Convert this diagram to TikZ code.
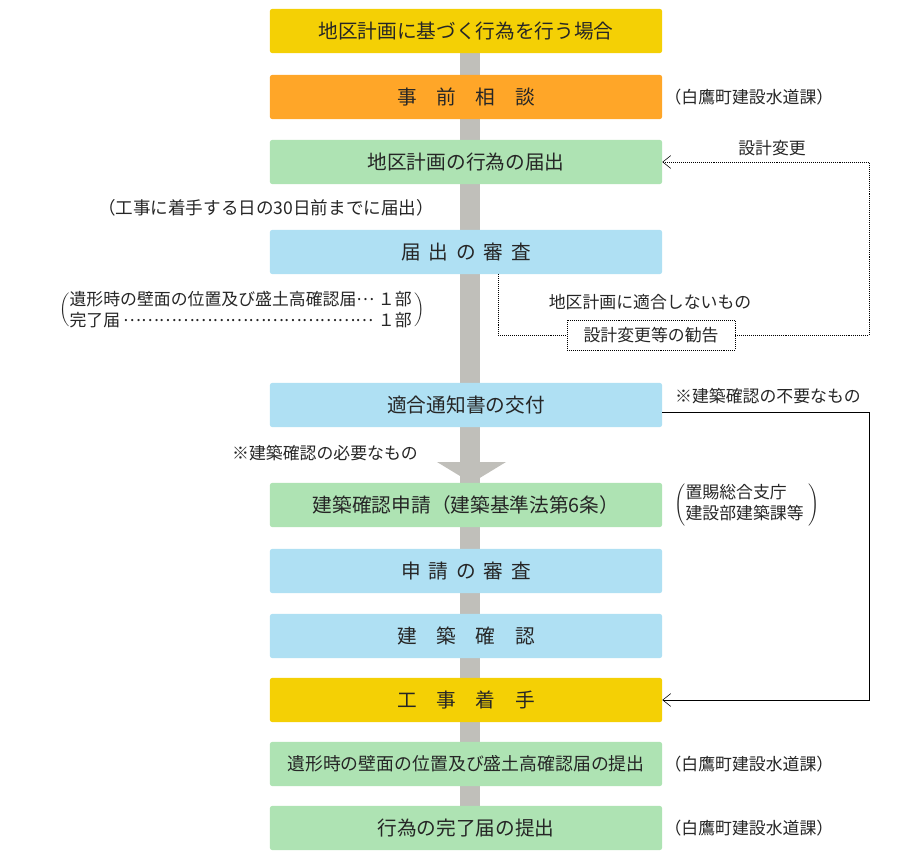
\documentclass[tikz,border=0pt]{standalone}
\usepackage{fontspec}
\setmainfont{Noto Sans CJK JP}
\usetikzlibrary{arrows.meta}
\definecolor{yel}{HTML}{F4D005}
\definecolor{ora}{HTML}{FFA628}
\definecolor{grn}{HTML}{AEE3B3}
\definecolor{sky}{HTML}{AFE0F3}
\definecolor{bar}{HTML}{C0BFBA}
\definecolor{ink}{HTML}{262626}
\newcommand\kgap{\hspace{.4em}}
\newcommand\middots{\raisebox{.3em}{…}}

\begin{document}
\begin{tikzpicture}[x=0.025cm,y=-0.025cm,>={Straight Barb[length=2mm,width=3.2mm]},
  stepbox/.style={rounded corners=1.5pt,minimum width=9.8cm,minimum height=1.1cm,inner sep=0pt,
    text=ink,font=\fontsize{14}{17}\selectfont},
  note/.style={text=ink,inner sep=0pt,font=\fontsize{12}{15}\selectfont},
  dotline/.style={densely dotted,thin}]
  \useasboundingbox (0,0) rectangle (920,865);
  % the grey spine and its arrowhead
  \fill[bar] (460,53) rectangle (480,806);
  \fill[bar] (437,462) -- (506,462) -- (471.5,483) -- cycle;
  \foreach \y/\n/\c/\t in {31/start/yel/{地区計画に基づく行為を行う場合},
      97/consult/ora/{事　前　相　談},
      162/notify/grn/{地区計画の行為の届出},
      252/review/sky/{届\kgap 出\kgap の\kgap 審\kgap 査},
      405/conform/sky/{適合通知書の交付},
      505/apply/grn/{建築確認申請（建築基準法第6条）},
      571/check/sky/{申\kgap 請\kgap の\kgap 審\kgap 査},
      636/confirm/sky/{建　築　確　認},
      700/begin/yel/{工　事　着　手},
      764/height/grn/{\fontsize{12.7}{15}\selectfont 遺形時の壁面の位置及び盛土高確認届の提出},
      828/finish/grn/{行為の完了届の提出}} {
    \node[stepbox,fill=\c] (\n) at (466,\y) {\t};
  }
  \foreach \n in {consult,height,finish} {
    \node[note,anchor=west] at ([xshift=0.05cm]\n.east) {（白鷹町建設水道課）};
  }
  \node[note,font=\fontsize{12.5}{15}\selectfont] (deadline) at (266,208) {（工事に着手する日の30日前までに届出）};
  \node[note] (copies) at (242,310) {$\left(\vcenter{\hbox{\parbox{8.55cm}{遺形時の壁面の位置及び盛土高確認届\middots\hfill １部\\
    完了届\leaders\hbox{\middots}\hfill １部}}}\,\right)$};
  \node[note] (pref) at (747,505) {$\left(\vcenter{\hbox{\begin{tabular}{@{}l@{}}置賜総合支庁\\建設部建築課等\end{tabular}}}\;\right)$};
  % redesign loop
  \node[note,draw,dotline,minimum width=4.2cm,minimum height=0.75cm] (advice) at (651,335) {設計変更等の勧告};
  \node[note] (unfit) at (650,302) {地区計画に適合しないもの};
  \node[note] (redesign) at (772,148) {設計変更};
  \coordinate (turnL) at (498,335);
  \coordinate (turnR) at (869,335);
  \draw[dotline] (review.south -| turnL) -- (turnL) -- (advice.west);
  \draw[dotline,->] (advice.east) -- (turnR) |- (notify.east);
  % skip of the building check
  \node[note] (needless) at (768,396) {※建築確認の不要なもの};
  \node[note] (needed) at (325,453) {※建築確認の必要なもの};
  \coordinate (skipR) at (869,412);
  \draw[->] (conform.east |- skipR) -- (skipR) |- (begin.east);
\end{tikzpicture}
\end{document}
